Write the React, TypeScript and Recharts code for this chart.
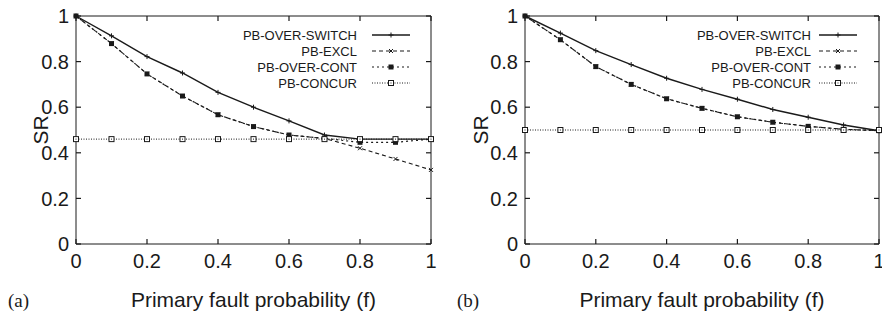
import React from 'react';
import * as RC from 'recharts';
import { LineChart, Line, XAxis, YAxis, Label, ReferenceLine } from 'recharts';

const fValues = [0, 0.1, 0.2, 0.3, 0.4, 0.5, 0.6, 0.7, 0.8, 0.9, 1];
const xTicks = [0, 0.2, 0.4, 0.6, 0.8, 1];
const yTicks = [0, 0.2, 0.4, 0.6, 0.8, 1];

const seriesNames = ['PB-OVER-SWITCH', 'PB-EXCL', 'PB-OVER-CONT', 'PB-CONCUR'];

// panel (a)
const aSwitch = [1.0, 0.913, 0.822, 0.75, 0.665, 0.6, 0.54, 0.478, 0.46, 0.46, 0.46];
const aExcl = [1.0, 0.879, 0.746, 0.649, 0.567, 0.515, 0.478, 0.463, 0.42, 0.373, 0.325];
const aCont = [1.0, 0.879, 0.746, 0.649, 0.567, 0.515, 0.478, 0.463, 0.446, 0.446, 0.46];
const aConcur = [0.46, 0.46, 0.46, 0.46, 0.46, 0.46, 0.46, 0.46, 0.46, 0.46, 0.46];

// panel (b)
const bSwitch = [1.0, 0.925, 0.848, 0.787, 0.727, 0.678, 0.635, 0.59, 0.556, 0.522, 0.497];
const bExcl = [1.0, 0.896, 0.778, 0.7, 0.637, 0.595, 0.558, 0.534, 0.516, 0.503, 0.497];
const bCont = [1.0, 0.896, 0.778, 0.7, 0.637, 0.595, 0.558, 0.534, 0.516, 0.503, 0.497];
const bConcur = [0.5, 0.5, 0.5, 0.5, 0.5, 0.5, 0.5, 0.5, 0.5, 0.5, 0.5];

const FONT = '"Liberation Sans", Arial, Helvetica, sans-serif';
const INK = '#1a1a1a';
const TICK_LEN = 5;
const X_MARGIN = 10;
const Y_MARGIN = 7;
const PLOT_TOP = 16;
const CHART_W = 441;
const CHART_H = 321;
const X_AXIS_H = 77;

const buildRows = (sw: number[], ex: number[], co: number[], cc: number[]) =>
  fValues.map((f, i) => ({ f, s0: sw[i], s1: ex[i], s2: co[i], s3: cc[i] }));

const RCany: any = RC;
const usePlotAreaSafe: () => any = typeof RCany.usePlotArea === 'function' ? RCany.usePlotArea : () => undefined;

type Box = { x: number; y: number; width: number; height: number };

// inward ticks on all four sides of the plot frame (gnuplot style)
const FrameTicks = ({ fallback }: { fallback: Box }) => {
  const pa = usePlotAreaSafe();
  const box: Box = pa && typeof pa.width === 'number' && pa.width > 0 ? pa : fallback;
  const { x, y, width, height } = box;
  const sx = (t: number) => x + t * width;
  const sy = (t: number) => y + (1 - t) * height;
  return (
    <g stroke={INK} strokeWidth={1.2}>
      {xTicks.map((t) => (
        <g key={`xt${t}`}>
          <line x1={sx(t)} y1={y + height} x2={sx(t)} y2={y + height - TICK_LEN} />
          <line x1={sx(t)} y1={y} x2={sx(t)} y2={y + TICK_LEN} />
        </g>
      ))}
      {yTicks.map((t) => (
        <g key={`yt${t}`}>
          <line x1={x} y1={sy(t)} x2={x + TICK_LEN} y2={sy(t)} />
          <line x1={x + width} y1={sy(t)} x2={x + width - TICK_LEN} y2={sy(t)} />
        </g>
      ))}
    </g>
  );
};

type MarkerKind = 'plus' | 'cross' | 'fsquare' | 'osquare';

const Marker = ({ cx, cy, kind }: { cx: number; cy: number; kind: MarkerKind }) => {
  if (cx == null || cy == null) return null;
  if (kind === 'plus')
    return (
      <g stroke={INK} strokeWidth={1}>
        <line x1={cx - 2.5} y1={cy} x2={cx + 2.5} y2={cy} />
        <line x1={cx} y1={cy - 2.5} x2={cx} y2={cy + 2.5} />
      </g>
    );
  if (kind === 'cross')
    return (
      <g stroke={INK} strokeWidth={1}>
        <line x1={cx - 2} y1={cy - 2} x2={cx + 2} y2={cy + 2} />
        <line x1={cx - 2} y1={cy + 2} x2={cx + 2} y2={cy - 2} />
      </g>
    );
  if (kind === 'fsquare') return <rect x={cx - 2.5} y={cy - 2.5} width={5} height={5} fill={INK} />;
  return (
    <g>
      <rect x={cx - 2.5} y={cy - 2.5} width={5} height={5} fill="#fff" stroke={INK} strokeWidth={1} />
      <rect x={cx - 0.5} y={cy - 0.5} width={1} height={1} fill={INK} />
    </g>
  );
};

const seriesStyles: { dash?: string; width: number; marker: MarkerKind }[] = [
  { dash: undefined, width: 1.4, marker: 'plus' },
  { dash: '4 3', width: 1.1, marker: 'cross' },
  { dash: '2 3', width: 1.2, marker: 'fsquare' },
  { dash: '1 1.5', width: 1, marker: 'osquare' },
];

const LegendBox = ({ right, top, gap, len }: { right: number; top: number; gap: number; len: number }) => (
  <g>
    {seriesNames.map((name, i) => {
      const y = top + i * 16;
      const st = seriesStyles[i];
      return (
        <g key={name}>
          <text x={right} y={y + 4.5} textAnchor="end" fontFamily={FONT} fontSize={13} fill={INK}>
            {name}
          </text>
          <line
            x1={right + gap}
            y1={y}
            x2={right + gap + len}
            y2={y}
            stroke={INK}
            strokeWidth={st.width}
            strokeDasharray={st.dash}
          />
          <Marker cx={right + gap + len / 2} cy={y} kind={st.marker} />
        </g>
      );
    })}
  </g>
);

const Panel = ({
  rows,
  yWidth,
  rightMargin,
  letter,
  letterX,
  legendRight,
  legendGap,
  srOffset,
}: {
  rows: any[];
  yWidth: number;
  rightMargin: number;
  letter: string;
  letterX: number;
  legendRight: number;
  legendGap: number;
  srOffset: number;
}) => {
  const fallback: Box = {
    x: yWidth,
    y: PLOT_TOP,
    width: CHART_W - rightMargin - yWidth,
    height: CHART_H - PLOT_TOP - X_AXIS_H,
  };
  return (
    <LineChart
      width={CHART_W}
      height={CHART_H}
      data={rows}
      margin={{ top: PLOT_TOP, right: rightMargin, left: 0, bottom: 0 }}
    >
      <XAxis
        dataKey="f"
        type="number"
        domain={[0, 1]}
        ticks={xTicks}
        height={X_AXIS_H}
        tickSize={0}
        tickMargin={X_MARGIN}
        axisLine={{ stroke: INK }}
        tickLine={false}
        tick={{ fill: INK, fontSize: 20, fontFamily: FONT }}
        interval={0}
      >
        <Label
          value="Primary fault probability (f)"
          position="insideBottom"
          offset={14}
          style={{ fill: INK, fontSize: 21, fontFamily: FONT }}
        />
      </XAxis>
      <YAxis
        type="number"
        domain={[0, 1]}
        ticks={yTicks}
        width={yWidth}
        tickSize={0}
        tickMargin={Y_MARGIN}
        axisLine={{ stroke: INK }}
        tickLine={false}
        tick={{ fill: INK, fontSize: 20, fontFamily: FONT }}
        interval={0}
      >
        <Label
          value="SR"
          angle={-90}
          position="insideLeft"
          offset={srOffset}
          style={{ fill: INK, fontSize: 21, fontFamily: FONT, textAnchor: 'middle' }}
        />
      </YAxis>
      {/* frame: top and right borders */}
      <ReferenceLine y={1} stroke={INK} strokeWidth={1} ifOverflow="visible" />
      <ReferenceLine x={1} stroke={INK} strokeWidth={1} ifOverflow="visible" />
      <FrameTicks fallback={fallback} />
      {seriesStyles.map((st, i) => (
        <Line
          key={i}
          dataKey={`s${i}`}
          name={seriesNames[i]}
          type="linear"
          stroke={INK}
          strokeWidth={st.width}
          strokeDasharray={st.dash}
          isAnimationActive={false}
          dot={(p: any) => <Marker key={`m${i}-${p.index}`} cx={p.cx} cy={p.cy} kind={st.marker} />}
          activeDot={false}
        />
      ))}
      <LegendBox right={legendRight} top={35} gap={legendGap} len={38} />
      <text x={letterX} y={307} fontFamily='"Liberation Serif", "Times New Roman", serif' fontSize={19} fill={INK}>
        {letter}
      </text>
    </LineChart>
  );
};

export default function App() {
  return (
    <div style={{ position: 'absolute', left: 0, top: 0, width: 882, height: 321, background: '#fff' }}>
      <div style={{ position: 'absolute', left: 0, top: 0 }}>
        <Panel
          rows={buildRows(aSwitch, aExcl, aCont, aConcur)}
          yWidth={76}
          rightMargin={10}
          letter="(a)"
          letterX={8}
          legendRight={357}
          legendGap={15}
          srOffset={41}
        />
      </div>
      <div style={{ position: 'absolute', left: 441, top: 0 }}>
        <Panel
          rows={buildRows(bSwitch, bExcl, bCont, bConcur)}
          yWidth={84}
          rightMargin={3}
          letter="(b)"
          letterX={16}
          legendRight={370}
          legendGap={8}
          srOffset={40}
        />
      </div>
    </div>
  );
}
